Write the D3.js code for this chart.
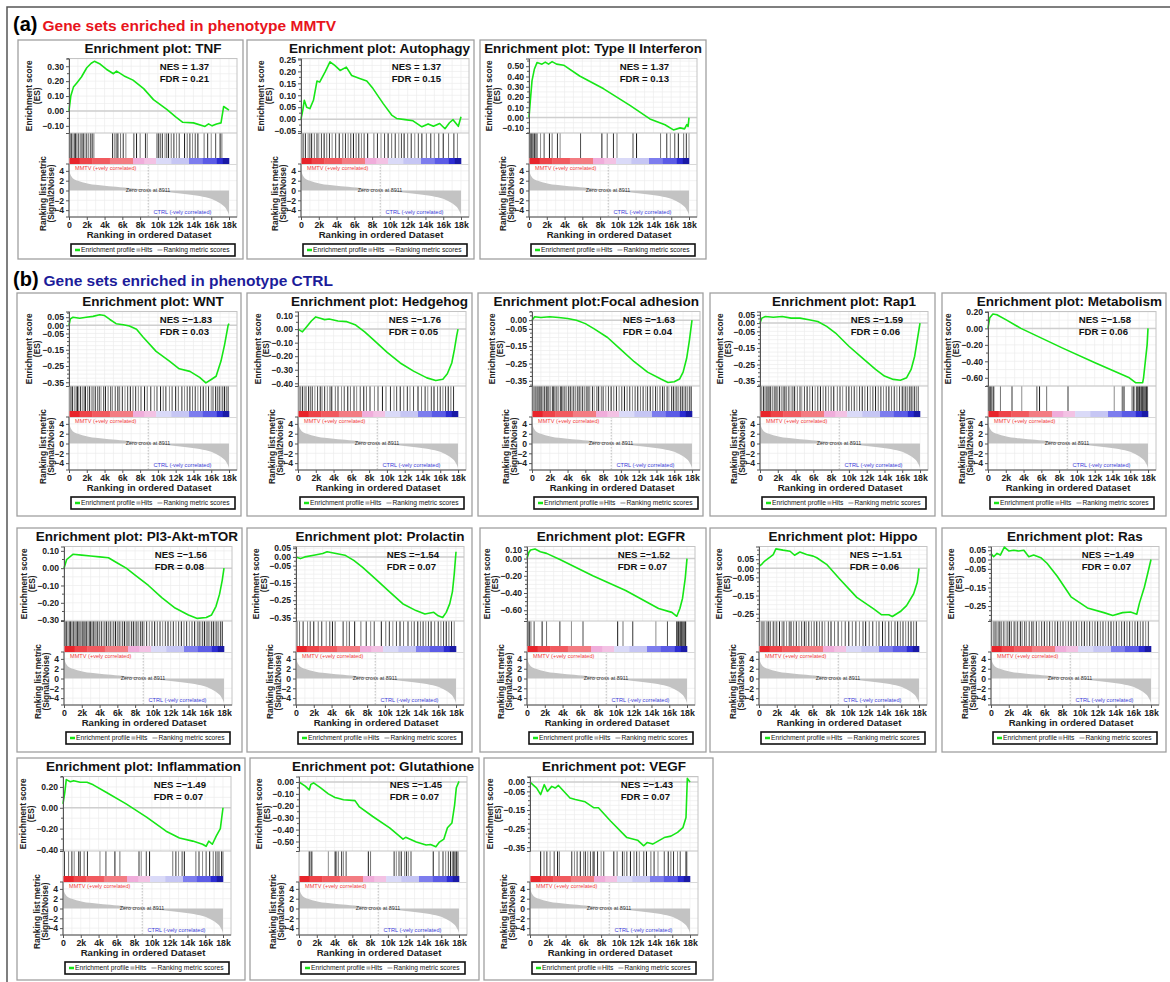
<!DOCTYPE html>
<html><head><meta charset="utf-8">
<script src="https://cdn.jsdelivr.net/npm/d3@7"></script>
<style>
body{margin:0;background:#fff}
svg{display:block}
text{font-family:"Liberation Sans",Arial,sans-serif}
</style></head>
<body><svg id="c" width="1170" height="982"></svg>
<script>
// ---------------- DATA ----------------
const sectionLabels = ["(a)", "(b)"];
const sectionTitles = ["Gene sets enriched in phenotype MMTV", "Gene sets enriched in phenotype CTRL"];

const panelTitles = ["Enrichment plot: TNF","Enrichment plot: Autophagy","Enrichment plot: Type II Interferon",
 "Enrichment plot: WNT","Enrichment plot: Hedgehog","Enrichment plot:Focal adhesion","Enrichment plot: Rap1","Enrichment plot: Metabolism",
 "Enrichment plot: PI3-Akt-mTOR","Enrichment plot: Prolactin","Enrichment plot: EGFR","Enrichment plot: Hippo","Enrichment plot: Ras",
 "Enrichment plot: Inflammation","Enrichment pot: Glutathione","Enrichment pot: VEGF"];
const nesValues = ["1.37","1.37","1.37","\u22121.83","\u22121.76","\u22121.63","\u22121.59","\u22121.58","\u22121.56","\u22121.54","\u22121.52","\u22121.51","\u22121.49","\u22121.49","\u22121.45","\u22121.43"];
const fdrValues = ["0.21","0.15","0.13","0.03","0.05","0.04","0.06","0.06","0.08","0.07","0.07","0.06","0.07","0.07","0.07","0.07"];

const esTicks = [
 [0.30,0.20,0.10,0.00,-0.10],
 [0.25,0.20,0.15,0.10,0.05,0.00,-0.05],
 [0.50,0.40,0.30,0.20,0.10,0.00,-0.10],
 [0.05,0.00,-0.05,-0.15,-0.25,-0.35],
 [0.10,0.00,-0.10,-0.20,-0.30,-0.40],
 [0.00,-0.05,-0.15,-0.25,-0.35],
 [0.05,0.00,-0.05,-0.15,-0.25,-0.35],
 [0.20,0.00,-0.20,-0.40,-0.60],
 [0.10,0.00,-0.10,-0.20,-0.30],
 [0.05,0.00,-0.05,-0.15,-0.25,-0.35],
 [0.10,0.00,-0.20,-0.40,-0.60],
 [0.05,0.00,-0.05,-0.15,-0.25],
 [0.05,0.00,-0.05,-0.15,-0.25],
 [0.20,0.00,-0.20,-0.40],
 [0.00,-0.10,-0.20,-0.30,-0.40,-0.50],
 [0.00,-0.05,-0.15,-0.25,-0.35]
];
const esDomains = [
 [-0.148,0.352],[-0.058,0.254],[-0.15,0.575],[-0.373,0.085],[-0.42,0.13],[-0.38,0.05],[-0.38,0.07],[-0.70,0.205],
 [-0.305,0.125],[-0.37,0.06],[-0.725,0.14],[-0.29,0.12],[-0.33,0.07],[-0.415,0.30],[-0.58,0.046],[-0.37,0.03]
];

const esCurves = [
 [[0,0],[0.2,0.10],[0.5,0.16],[0.9,0.19],[1.4,0.228],[2.0,0.29],[2.5,0.32],[2.85,0.333],[3.5,0.315],[4.2,0.28],[5.0,0.25],[5.35,0.267],[6.2,0.235],[7.2,0.207],[8.4,0.15],[9.5,0.076],[11,0.01],[12.0,-0.04],[12.8,-0.076],[14,-0.08],[15.3,-0.104],[15.7,-0.087],[16.1,-0.1],[16.6,-0.087],[17.1,-0.08],[17.4,0.03],[18,0.005]],
 [[0,0],[0.2,0.037],[0.37,0.079],[0.64,0.05],[1.0,0.044],[1.4,0.079],[1.8,0.16],[2.1,0.155],[2.7,0.197],[3.26,0.24],[3.8,0.225],[4.4,0.204],[5.1,0.218],[5.7,0.183],[6.6,0.17],[7.4,0.16],[8.1,0.128],[9.25,0.065],[10.2,0.017],[10.75,0.003],[11.7,-0.002],[12.6,-0.007],[13.6,-0.032],[14.3,-0.02],[14.9,-0.03],[15.6,-0.018],[16.2,-0.04],[16.7,-0.015],[17.1,-0.002],[17.7,-0.03],[18,0.01]],
 [[0,0],[0.15,0.165],[0.34,0.36],[0.6,0.47],[0.9,0.535],[1.46,0.52],[1.83,0.54],[2.2,0.52],[2.6,0.545],[3.1,0.52],[3.9,0.51],[5.7,0.405],[8.4,0.28],[11.4,0.116],[13.6,-0.013],[15.3,-0.07],[16.25,-0.12],[17.0,-0.1],[17.5,-0.11],[17.75,-0.068],[17.9,-0.087],[18,0]],
 [[0,0],[0.15,0.04],[0.45,0.05],[1.2,0.044],[1.95,0.05],[2.7,0.055],[3.45,0.065],[4.0,0.06],[4.6,0.036],[5.3,0.01],[6.1,0.004],[6.8,-0.004],[7.6,-0.024],[8.3,-0.07],[9.8,-0.16],[11.3,-0.22],[12.4,-0.267],[13.6,-0.283],[14.7,-0.32],[15.4,-0.354],[16.0,-0.333],[16.55,-0.313],[17.1,-0.22],[17.5,-0.12],[17.9,0.0],[18,0.01]],
 [[0,0],[0.5,-0.02],[1.0,0.02],[1.5,0.06],[2.0,0.09],[2.5,0.08],[3.0,0.07],[3.5,0.075],[4.5,0.06],[5.5,0.055],[6.5,0.03],[7.5,-0.02],[8.5,-0.08],[10,-0.17],[11.5,-0.25],[13,-0.31],[14.5,-0.36],[15.5,-0.38],[16.3,-0.37],[16.8,-0.33],[17.3,-0.25],[17.6,-0.15],[17.85,-0.05],[18,0]],
 [[0,0],[0.3,0.02],[1,0.015],[2,0.02],[3,0.015],[4,0.01],[5,0.0],[6,-0.02],[7,-0.05],[8.5,-0.1],[10,-0.17],[11.5,-0.24],[13,-0.3],[14.5,-0.34],[15.3,-0.36],[16,-0.355],[16.6,-0.34],[17,-0.3],[17.4,-0.22],[17.7,-0.12],[18,0]],
 [[0,0],[0.2,0.03],[0.6,0.04],[1.5,0.035],[2.5,0.04],[3.5,0.03],[4.5,0.03],[5.5,0.02],[6.5,0.01],[7.5,-0.02],[8.5,-0.06],[10,-0.14],[11.5,-0.21],[13,-0.28],[14,-0.32],[15,-0.34],[15.8,-0.345],[16.5,-0.33],[17,-0.28],[17.4,-0.2],[17.7,-0.1],[18,0]],
 [[0,0],[0.2,0.13],[0.55,0.174],[1.0,0.165],[2.1,0.10],[3.7,0.0],[8.4,-0.24],[12.1,-0.42],[15.9,-0.6],[16.6,-0.66],[17.4,-0.66],[17.5,-0.6],[17.7,-0.40],[17.9,-0.2],[18,0]],
 [[0,0],[0.3,0.05],[1,0.08],[2,0.075],[3,0.07],[4,0.065],[5,0.06],[6,0.03],[7,0.0],[8,-0.04],[9.5,-0.1],[11,-0.17],[12.5,-0.23],[14,-0.27],[15,-0.29],[16,-0.285],[16.6,-0.27],[17.1,-0.22],[17.5,-0.15],[17.8,-0.07],[18,0]],
 [[0,0],[0.5,-0.01],[1,0.0],[2,0.01],[3,0.02],[3.5,0.03],[4.5,0.02],[5.5,0.01],[6.5,-0.02],[7.5,-0.06],[9,-0.13],[10.5,-0.2],[12,-0.27],[13.5,-0.31],[14.5,-0.33],[15.5,-0.32],[16,-0.34],[16.5,-0.35],[16.9,-0.32],[17.3,-0.27],[17.6,-0.2],[17.8,-0.1],[18,0.03]],
 [[0,0],[0.2,0.07],[0.4,0.1],[0.9,0.11],[1.5,0.08],[2.2,0.06],[3.7,-0.01],[7.4,-0.2],[11.1,-0.37],[14.8,-0.58],[16.3,-0.625],[16.85,-0.67],[17.2,-0.58],[17.5,-0.46],[17.8,-0.23],[18,0]],
 [[0,0.01],[0.26,0.02],[0.64,0.04],[1.2,0.06],[1.6,0.075],[1.9,0.107],[2.7,0.1],[3.5,0.094],[4.0,0.072],[4.6,0.09],[5.35,0.076],[6.1,0.067],[6.5,0.058],[7.6,0.022],[9.1,-0.06],[11,-0.16],[12.9,-0.223],[13.8,-0.256],[14.6,-0.256],[15,-0.265],[15.9,-0.238],[16.6,-0.205],[17.4,-0.14],[17.8,-0.078],[18,0]],
 [[0,0.033],[0.3,0.015],[0.68,0.033],[1.05,0.024],[1.5,0.067],[2.0,0.046],[2.56,0.05],[3.1,0.046],[3.7,0.05],[4.25,0.015],[4.8,0.024],[5.6,0.01],[6.3,-0.02],[7.45,-0.09],[9,-0.2],[10.85,-0.26],[12.7,-0.285],[13.7,-0.3],[14.8,-0.285],[15.7,-0.282],[16.4,-0.294],[16.7,-0.234],[17.25,-0.149],[17.6,-0.08],[18,0]],
 [[0,0.037],[0.2,0.146],[0.37,0.27],[0.82,0.25],[1.2,0.26],[1.93,0.245],[2.7,0.245],[3.4,0.22],[4.9,0.146],[7.1,0.037],[9.4,-0.09],[11.6,-0.225],[13.1,-0.29],[14.6,-0.32],[15.7,-0.35],[16.1,-0.37],[16.4,-0.32],[16.8,-0.35],[17.25,-0.27],[17.7,-0.2],[18,0]],
 [[0,0],[0.7,-0.035],[1.15,-0.067],[1.34,-0.02],[1.64,-0.008],[2.4,-0.048],[3.3,-0.1],[4.05,-0.13],[4.4,-0.137],[5,-0.15],[6.3,-0.157],[6.8,-0.21],[8.3,-0.29],[10.2,-0.385],[11.7,-0.48],[12.0,-0.465],[13.2,-0.505],[14.3,-0.53],[14.8,-0.525],[15.4,-0.545],[15.8,-0.505],[16.3,-0.48],[16.7,-0.385],[17.2,-0.345],[17.5,-0.196],[17.7,-0.048],[18,0.005]],
 [[0,0],[0.75,-0.032],[1.2,-0.067],[1.6,-0.014],[1.96,-0.05],[2.45,-0.023],[2.83,-0.032],[3.2,-0.018],[4.5,-0.085],[5.1,-0.094],[6.2,-0.106],[7.2,-0.138],[7.7,-0.138],[9.06,-0.209],[10.9,-0.298],[12.1,-0.312],[12.8,-0.342],[13.2,-0.324],[13.8,-0.333],[15.1,-0.298],[15.85,-0.29],[16.6,-0.27],[17.2,-0.245],[17.55,-0.19],[17.7,0.02],[18,0]]
];

const hitRanks = [
 [0.05,0.15,0.3,0.45,0.6,0.75,0.9,1.1,1.3,1.45,1.6,1.8,2.0,2.2,2.4,2.6,2.8,4.9,5.1,5.3,5.5,5.8,6.1,6.4,7.3,7.6,8.0,8.6,8.8,9.9,10.1,10.3,10.5,10.8,11.0,11.2,11.5,11.8,12.1,12.4,13.0,13.3,13.6,13.9,14.2,14.5,15.2,15.6,16.0,16.5,17.0,17.2],
 [0.1,0.3,0.5,0.8,1.0,1.2,1.5,1.8,2.0,2.3,2.6,2.9,3.2,3.5,3.9,4.3,4.7,5.0,5.3,5.6,5.9,6.2,6.5,6.8,7.1,7.5,8.2,8.6,9.0,9.4,9.8,10.2,10.6,11.0,11.3,11.6,12.0,12.4,12.8,13.2,13.6,14.1,14.6,15.0,15.5,16.0,16.6,17.2,17.6],
 [0.05,0.15,0.25,0.35,0.45,0.6,0.75,0.9,1.3,1.7,2.3,2.6,3.2,3.5,5.8,8.2,8.8,9.5,9.9,11.7,12.1,14.8,15.5,15.9,16.4,16.8,17.4,17.7,18.0],
 [0.1,0.25,0.4,0.6,0.8,0.95,1.1,1.3,1.5,1.7,1.85,2.1,2.3,2.5,2.7,2.95,3.2,3.4,3.6,3.9,4.1,4.4,4.7,4.9,5.2,5.5,5.7,6.0,6.3,6.6,6.9,7.2,7.5,7.8,8.1,8.5,8.8,9.2,9.6,9.9,10.3,10.6,10.9,11.3,11.6,12.0,12.3,12.7,13.0,13.3,13.6,13.9,14.2,14.5,14.8,15.1,15.4,15.7,16.0,16.2,16.5,16.7,16.9,17.1,17.3,17.5,17.7,17.9],
 [0.1,0.3,0.5,0.7,0.9,1.2,1.4,1.6,1.9,2.2,2.5,2.7,3.0,3.3,3.6,3.8,4.2,4.5,4.9,5.2,5.6,5.9,6.3,6.6,7.0,7.4,7.7,8.1,8.6,9.0,9.5,9.9,10.4,10.8,11.1,11.5,11.9,12.3,12.6,13.0,13.5,13.9,14.3,14.6,15.0,15.3,15.7,16.0,16.3,16.6,16.9,17.2,17.5],
 [0.05,0.2,0.35,0.5,0.65,0.8,0.95,1.1,1.25,1.4,1.6,1.75,1.9,2.1,2.3,2.45,2.6,2.8,3.0,3.2,3.35,3.5,3.7,3.9,4.1,4.3,4.5,4.7,4.9,5.1,5.3,5.5,5.7,5.9,6.1,6.3,6.5,6.8,7.0,7.3,7.5,7.8,8.0,8.3,8.6,8.9,9.2,9.5,9.8,10.1,10.4,10.7,11.0,11.3,11.6,11.9,12.2,12.5,12.8,13.0,13.3,13.6,13.9,14.1,14.4,14.7,14.9,15.2,15.4,15.7,15.9,16.1,16.3,16.5,16.7,16.9,17.1,17.3,17.5,17.7,17.9],
 [0.05,0.2,0.4,0.55,0.7,0.9,1.05,1.2,1.4,1.6,1.8,2.0,2.2,2.4,2.6,2.8,3.0,3.25,3.5,3.7,3.9,4.2,4.5,4.7,5.0,5.3,5.6,5.9,6.2,6.5,6.8,7.1,7.4,7.7,8.0,8.3,8.7,9.0,9.3,9.7,10.0,10.3,10.6,10.9,11.2,11.5,11.8,12.1,12.4,12.7,13.0,13.3,13.6,13.9,14.2,14.5,14.8,15.1,15.4,15.7,16.0,16.2,16.4,16.6,16.8,17.0,17.2,17.4,17.6,17.8],
 [0.05,0.15,0.25,0.35,0.45,0.65,1.4,2.7,3.8,5.5,5.8,6.6,9.0,14.2,15.1,15.3,16.2,16.35,16.5,16.7,16.85,16.95,17.05,17.15,17.25,17.35,17.45,17.55,17.65,17.75,17.85,17.95],
 [0.05,0.15,0.3,0.45,0.6,0.75,0.9,1.05,1.2,1.35,1.5,1.65,1.8,1.95,2.1,2.25,2.4,2.55,2.7,2.85,3.0,3.15,3.3,3.45,3.6,3.8,4.0,4.2,4.4,4.6,4.8,5.0,5.2,5.4,5.6,5.8,6.0,6.2,6.4,6.6,6.8,7.0,7.2,7.4,7.6,7.8,8.0,8.2,8.4,8.6,8.8,9.0,9.3,9.6,9.9,10.2,10.5,10.8,11.1,11.4,11.7,12.0,12.3,12.6,12.9,13.2,13.5,13.8,14.1,14.4,14.7,15.0,15.2,15.4,15.6,15.8,16.0,16.2,16.4,16.6,16.8,17.0,17.2,17.4,17.6,17.8],
 [0.1,0.4,0.8,1.3,1.6,2.0,2.5,2.9,3.4,3.8,4.1,4.4,5.3,5.7,6.0,6.6,7.3,7.9,8.4,8.8,9.6,10.1,10.5,10.9,11.3,11.7,12.1,12.6,13.0,13.3,13.7,14.0,14.3,14.6,14.9,15.2,15.6,16.0,16.3,16.6,16.9,17.2,17.5,17.8],
 [0.05,0.15,0.3,0.45,0.8,1.7,2.2,3.7,5.0,6.3,10.2,10.8,11.9,14.5,15.8,16.85,16.95,17.05,17.15,17.25,17.35,17.45,17.55,17.65,17.75,17.85],
 [0.05,0.25,0.45,0.65,0.9,1.1,1.3,1.6,1.8,2.0,2.3,2.6,2.8,3.1,3.4,3.6,3.9,4.2,4.5,4.8,5.1,5.3,5.6,5.9,6.2,6.5,6.8,7.1,7.4,7.8,8.1,8.5,8.9,9.3,9.7,10.1,10.5,10.9,11.3,11.7,12.0,12.4,12.8,13.2,13.5,13.9,14.2,14.6,14.9,15.3,15.6,15.9,16.2,16.5,16.8,17.1,17.4,17.7],
 [0.05,0.25,0.45,0.6,0.8,1.0,1.2,1.45,1.7,1.9,2.1,2.3,2.6,2.8,3.0,3.3,3.5,3.8,4.0,4.3,4.6,4.8,5.1,5.4,5.7,6.0,6.3,6.6,6.9,7.2,7.5,7.8,8.1,8.4,8.7,9.0,9.3,9.6,9.9,10.2,10.5,10.8,11.1,11.4,11.7,12.0,12.3,12.6,12.9,13.2,13.5,13.8,14.1,14.4,14.7,15.0,15.3,15.6,15.9,16.2,16.5,16.8,17.1,17.4,17.7],
 [0.15,0.63,1.0,1.26,1.75,1.93,2.38,2.75,4.16,4.83,5.84,6.4,8.55,8.8,9.37,9.74,12.35,12.7,13.0,13.4,13.65,14.95,15.3,15.7,16.1,16.5,16.9,17.2,17.4,17.55,17.85,18.0],
 [1.15,1.34,1.45,3.3,4.05,4.16,4.42,4.8,5.0,5.3,7.8,8.05,10.7,10.95,11.25,11.5,11.9,12.1,12.3,12.6,15.1,15.75,16.2,16.5,16.8,17.05,17.25,17.4,17.5,17.65,17.75,17.9],
 [1.2,1.58,1.9,2.26,2.72,3.1,3.3,4.7,5.0,5.3,5.66,6.04,6.23,6.5,6.8,7.1,7.25,7.6,8.0,8.3,9.43,9.8,10.4,10.6,10.9,11.3,11.7,12.0,12.3,12.8,13.1,13.6,13.96,14.4,15.1,15.55,15.85,16.15,16.6,16.9,17.55,17.65]
];

// ranking metric (Signal2Noise), shared by all panels
const rankK = [0,0.05,0.15,0.3,0.5,0.75,1,1.5,2.2,3,3.5,4.5,5.3,6.2,7.2,8.3,8.911,9.5,10.2,11,12,13,13.9,14.7,15.4,16,16.6,17,17.3,17.5,17.7,17.85,18];
const rankMetric = [4.7,4.0,3.3,2.8,2.4,2.15,2.0,1.7,1.4,1.15,1.05,0.88,0.77,0.6,0.4,0.2,0,-0.1,-0.2,-0.33,-0.5,-0.7,-0.9,-1.1,-1.4,-1.7,-2.2,-2.6,-3.0,-3.3,-3.8,-4.3,-5.0];
const zeroCross = 8.911;

const xTicks = [0,2,4,6,8,10,12,14,16,18];
const xTickLabels = ["0","2k","4k","6k","8k","10k","12k","14k","16k","18k"];
const rankTicks = [4,2,0,-2,-4];

const colorBarBreaks = [0,1.2,2.6,4.6,7.2,8.5,9.8,11.5,13.5,15.0,16.6,17.3,18];
const colorBarColors = ["#e8242b","#ee4449","#f15a5f","#f37c82","#f0addb","#f3c2e4","#dadaf8","#c6c6f4","#7d7dee","#5b5be6","#2c2cd2","#1a1aa6"];

const legendLabels = ["Enrichment profile","Hits","Ranking metric scores"];
const corrLabels = ["MMTV (+vely correlated)","CTRL (-vely correlated)","Zero cross at 8911"];
const esAxisLabel = ["Enrichment score","(ES)"];
const rankAxisLabel = ["Ranking list metric","(Signal2Noise)"];
const xAxisLabel = "Ranking in ordered Dataset";

// ---------------- LAYOUT ----------------
const boxes = [
 [18,40,225,219],[247,40,227,219],[480,40,226,219],
 [17,293,224,223],[247,293,225,223],[478,293,225,223],[710,293,225,223],[942,293,224,223],
 [17,528,225,224],[247,528,225,224],[480,528,226,224],[710,528,226,224],[942,528,224,224],
 [17,758,228,222],[250,758,229,222],[484,758,229,222]
];
const plotOffsets = [51,54,49, 52,51,54,50,46, 47,49,47,49,49, 46,49,46];
const sectionPos = [[13,31],[13,286]];
const sectionColors = ["#e8141c","#1c1c9a"];

const svg = d3.select("#c");
svg.append("rect").attr("width",1170).attr("height",982).attr("fill","#fff");
svg.append("path").attr("d","M7,982 L7,7 L1170,7").attr("fill","none").attr("stroke","#555").attr("stroke-width",1.5);

sectionLabels.forEach((s,i)=>{
  const t = svg.append("text").attr("x",sectionPos[i][0]).attr("y",sectionPos[i][1]);
  t.append("tspan").attr("font-size",20).attr("font-weight","bold").attr("fill","#000").text(s);
  t.append("tspan").attr("dx",5).attr("font-size",15.5).attr("font-weight","bold").attr("fill",sectionColors[i]).attr("dy",-0.5).text(sectionTitles[i]);
});

const fmtES = d => (d < 0 ? "\u2212" : "") + Math.abs(d).toFixed(2);
const fmtRank = d => (d < 0 ? "\u2212" + (-d) : "" + d);
const hitOpac = [0.9,0.55,0.8,0.45,0.7];

panelTitles.forEach((title,i)=>drawPanel(i));

function drawPanel(i){
  const b = boxes[i];
  const g = svg.append("g").attr("transform",`translate(${b[0]},${b[1]})`);
  g.append("rect").attr("x",0).attr("y",0).attr("width",b[2]).attr("height",b[3])
    .attr("fill","#fff").attr("stroke","#a0a0a0").attr("stroke-width",1.3);

  const pl = plotOffsets[i], pw = 168;
  const esTop = 18.5, esBot = 93, hitBot = 118, cbBot = 124, rkBot = 177;
  const x = d3.scaleLinear().domain([0,18.9]).range([pl, pl+pw]);
  const y = d3.scaleLinear().domain(esDomains[i]).range([esBot, esTop]);
  const yr = d3.scaleLinear().domain([-5.4,5.4]).range([rkBot, cbBot]);

  // title centred over plot, kept inside box
  const tt = g.append("text").attr("y",12.8).attr("text-anchor","middle")
    .attr("font-size",13.5).attr("font-weight","bold").attr("fill","#111").text(panelTitles[i]);
  let tw = tt.node().getComputedTextLength();
  const maxW = b[2]-8;
  if (tw > maxW) { tt.attr("font-size",13.5*maxW/tw); tw = maxW; }
  let tcx = pl + pw/2;
  if (tcx + tw/2 > b[2]-4) tcx = b[2]-4-tw/2;
  if (tcx - tw/2 < 4) tcx = 4+tw/2;
  tt.attr("x",tcx);

  // plot background + grid
  g.append("rect").attr("x",pl).attr("y",esTop).attr("width",pw).attr("height",rkBot-esTop).attr("fill","#fff");
  const grid = g.append("g").attr("stroke","#ececec").attr("stroke-width",0.7);
  d3.range(1,19,1).forEach(k=>{
    grid.append("line").attr("x1",x(k)).attr("x2",x(k)).attr("y1",esTop).attr("y2",esBot);
    grid.append("line").attr("x1",x(k)).attr("x2",x(k)).attr("y1",cbBot).attr("y2",rkBot);
  });
  const ticks = esTicks[i];
  const step = Math.min(...ticks.slice(1).map((t,j)=>Math.abs(ticks[j]-t)));
  const minor = [];
  for (let v = ticks[ticks.length-1]; v <= esDomains[i][1]+1e-9; v += step/2) minor.push(+v.toFixed(4));
  for (let v = ticks[ticks.length-1]-step/2; v >= esDomains[i][0]-1e-9; v -= step/2) minor.push(+v.toFixed(4));
  minor.forEach(v=>grid.append("line").attr("x1",pl).attr("x2",pl+pw).attr("y1",y(v)).attr("y2",y(v)));
  [-4,-2,2,4].forEach(v=>grid.append("line").attr("x1",pl).attr("x2",pl+pw).attr("y1",yr(v)).attr("y2",yr(v)));

  g.append("line").attr("x1",pl).attr("x2",pl+pw).attr("y1",y(0)).attr("y2",y(0)).attr("stroke","#cfcfcf").attr("stroke-width",1.5);

  // hits
  g.append("g").selectAll("line").data(hitRanks[i]).join("line")
    .attr("x1",d=>x(d)).attr("x2",d=>x(d)).attr("y1",esBot).attr("y2",hitBot)
    .attr("stroke","#000").attr("stroke-width",1).attr("stroke-opacity",(d,j)=>hitOpac[j%hitOpac.length]);

  // colour bar
  g.append("g").selectAll("rect").data(colorBarColors).join("rect")
    .attr("x",(c,j)=>x(colorBarBreaks[j])).attr("width",(c,j)=>x(colorBarBreaks[j+1])-x(colorBarBreaks[j])+0.3)
    .attr("y",hitBot).attr("height",cbBot-hitBot).attr("fill",c=>c);

  // ranking metric
  const rankData = rankK.map((k,j)=>[k,rankMetric[j]]);
  g.append("path").datum(rankData)
    .attr("d",d3.area().x(d=>x(d[0])).y0(yr(0)).y1(d=>yr(d[1])).curve(d3.curveMonotoneX))
    .attr("fill","#c3c3c3");
  g.append("line").attr("x1",x(zeroCross)).attr("x2",x(zeroCross)).attr("y1",cbBot).attr("y2",rkBot)
    .attr("stroke","#999").attr("stroke-width",0.6).attr("stroke-dasharray","1.5,1.5");

  g.append("rect").attr("x",pl).attr("y",esTop).attr("width",pw).attr("height",rkBot-esTop)
    .attr("fill","none").attr("stroke","#c4c4c4").attr("stroke-width",1);
  g.append("line").attr("x1",pl).attr("x2",pl+pw).attr("y1",esBot).attr("y2",esBot).attr("stroke","#c4c4c4");
  g.append("line").attr("x1",pl).attr("x2",pl+pw).attr("y1",cbBot+0.5).attr("y2",cbBot+0.5).attr("stroke","#d8d8d8");

  // ES curve
  g.append("path").datum(esCurves[i])
    .attr("d",d3.line().x(d=>x(d[0])).y(d=>y(d[1])))
    .attr("fill","none").attr("stroke","#16e616").attr("stroke-width",1.6).attr("stroke-linejoin","round");

  // NES / FDR
  const nx = pl + pw*0.54;
  g.append("text").attr("x",nx).attr("y",29.5).attr("font-size",9.6).attr("font-weight","bold").attr("fill","#111")
    .text("NES =" + (nesValues[i].startsWith("\u2212") ? "" : " ") + nesValues[i]);
  g.append("text").attr("x",nx).attr("y",41.5).attr("font-size",9.6).attr("font-weight","bold").attr("fill","#111")
    .text("FDR = " + fdrValues[i]);

  // axes
  const axisStyle = sel => {
    sel.select(".domain").attr("stroke","#555").attr("stroke-width",1);
    sel.selectAll(".tick line").attr("stroke","#555");
    sel.selectAll(".tick text").attr("font-size",8.6).attr("font-weight","bold").attr("fill","#222")
      .attr("font-family","Liberation Sans, Arial, sans-serif");
  };
  const ay = g.append("g").attr("transform",`translate(${pl},0)`)
    .call(d3.axisLeft(y).tickValues(ticks).tickSize(3).tickPadding(2).tickFormat(fmtES));
  axisStyle(ay);
  g.append("g").selectAll("line").data(minor.filter(v=>!ticks.some(t=>Math.abs(t-v)<1e-6))).join("line")
    .attr("x1",pl-2).attr("x2",pl).attr("y1",v=>y(v)).attr("y2",v=>y(v)).attr("stroke","#555");

  const ar = g.append("g").attr("transform",`translate(${pl},0)`)
    .call(d3.axisLeft(yr).tickValues(rankTicks).tickSize(3).tickPadding(2).tickFormat(fmtRank));
  axisStyle(ar);
  ar.select(".domain").attr("d",`M-3,${cbBot}H0V${rkBot}H-3`);

  const ax = g.append("g").attr("transform",`translate(0,${rkBot})`)
    .call(d3.axisBottom(x).tickValues(xTicks).tickSize(3).tickPadding(1.5).tickFormat((d,j)=>xTickLabels[j]));
  axisStyle(ax);
  ax.selectAll(".tick text").attr("font-size",8.8);
  ax.select(".domain").attr("d",`M${pl},0H${pl+pw}`);

  // in-plot texts
  g.append("text").attr("x",x(0)+6).attr("y",cbBot+5.6).attr("font-size",5.6).attr("fill","#f03a3a").text(corrLabels[0]);
  g.append("text").attr("x",x(9.5)).attr("y",rkBot-3.2).attr("font-size",5.6).attr("fill","#3a3ad8").text(corrLabels[1]);
  g.append("text").attr("x",x(8.9)).attr("y",yr(0)+1.8).attr("text-anchor","middle").attr("font-size",5.4).attr("fill","#333").text(corrLabels[2]);

  // axis titles
  const esMid = (esTop+esBot)/2, rkMid = (cbBot+rkBot)/2 + 3;
  [[esAxisLabel[0],pl-37,esMid],[esAxisLabel[1],pl-29.5,esMid],[rankAxisLabel[0],pl-23,rkMid],[rankAxisLabel[1],pl-15.5,rkMid]]
    .forEach(([t,lx,ly])=>{
      g.append("text").attr("transform",`translate(${lx},${ly}) rotate(-90)`).attr("text-anchor","middle")
        .attr("font-size",8.4).attr("font-weight","bold").attr("fill","#222").text(t);
    });
  g.append("text").attr("x",x(9)).attr("y",rkBot+20.5).attr("text-anchor","middle")
    .attr("font-size",9.6).attr("font-weight","bold").attr("fill","#222").text(xAxisLabel);

  // legend
  const lx0 = pl+2, lx1 = pl+pw-2, ly0 = 204, ly1 = 216, lyc = 210;
  g.append("rect").attr("x",lx0).attr("y",ly0).attr("width",lx1-lx0).attr("height",ly1-ly0)
    .attr("fill","#fff").attr("stroke","#111").attr("stroke-width",1.6);
  let cx = lx0 + 4;
  g.append("line").attr("x1",cx).attr("x2",cx+5).attr("y1",lyc).attr("y2",lyc).attr("stroke","#16e616").attr("stroke-width",2.5);
  cx += 6;
  const t1 = g.append("text").attr("x",cx).attr("y",lyc+2.3).attr("font-size",6.7).attr("fill","#111").text(legendLabels[0]);
  cx += t1.node().getComputedTextLength() + 1.5;
  g.append("line").attr("x1",cx).attr("x2",cx+4).attr("y1",lyc-0.9).attr("y2",lyc-0.9).attr("stroke","#444").attr("stroke-width",0.7);
  g.append("line").attr("x1",cx).attr("x2",cx+4).attr("y1",lyc+0.9).attr("y2",lyc+0.9).attr("stroke","#444").attr("stroke-width",0.7);
  cx += 4.5;
  const t2 = g.append("text").attr("x",cx).attr("y",lyc+2.3).attr("font-size",6.7).attr("fill","#111").text(legendLabels[1]);
  cx += t2.node().getComputedTextLength() + 5;
  g.append("line").attr("x1",cx).attr("x2",cx+5).attr("y1",lyc).attr("y2",lyc).attr("stroke","#c3c3c3").attr("stroke-width",2);
  cx += 6;
  g.append("text").attr("x",cx).attr("y",lyc+2.3).attr("font-size",6.7).attr("fill","#111").text(legendLabels[2]);
}
</script></body></html>
